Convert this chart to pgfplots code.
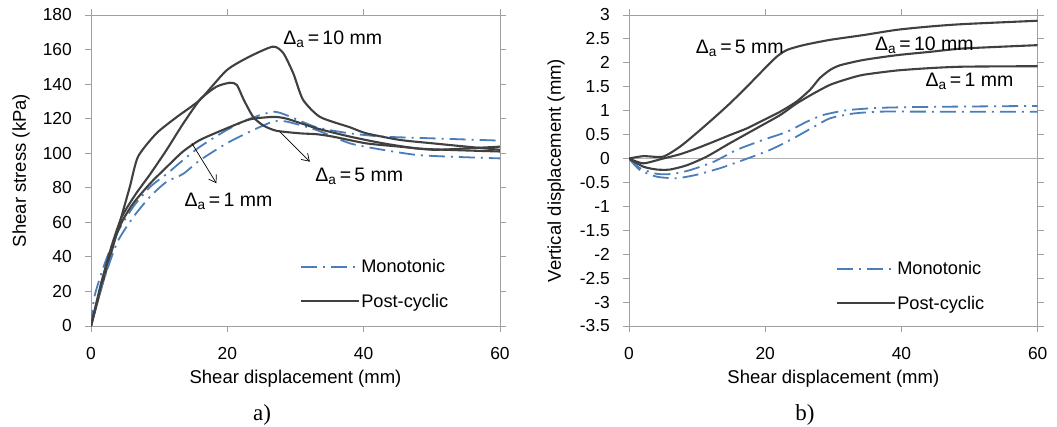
\documentclass[border=0pt]{standalone}
\usepackage{fontspec}
\setmainfont{Liberation Sans}
\newfontfamily\seriffont{Liberation Serif}
\usepackage{pgfplots}
\pgfplotsset{compat=1.18}
\usetikzlibrary{arrows.meta}
\definecolor{dark}{HTML}{404040}
\definecolor{mblue}{HTML}{4A7EBB}
\definecolor{axgray}{HTML}{A0A0A0}
\definecolor{zgray}{HTML}{B0B0B0}
\newcommand{\da}[1]{Δ\textsubscript{a}\,=\,#1 mm}
\tikzset{ann/.style={anchor=west, inner sep=0pt, font=\fontsize{19.5}{21}\selectfont}}

\pgfplotsset{
  myax/.style={
    scale only axis, width=409pt, height=311pt,
    xmin=0, xmax=60, xtick={0,20,40,60},
    axis line style={draw=axgray, line width=0.9pt},
    tick align=outside, major tick length=6pt,
    tick style={draw=axgray, line width=0.9pt},
    /pgf/number format/assume math mode=true,
    tick label style={font=\fontsize{17.4}{19}\selectfont},
    yticklabel style={anchor=east, inner sep=0pt, xshift=-13pt},
    xticklabel style={anchor=north, inner sep=0pt, yshift=-15pt},
    label style={font=\fontsize{18.5}{20}\selectfont},
    xlabel style={at={(axis description cs:0.5,0)}, anchor=center, yshift=-53pt},
    legend style={draw=none, fill=none, inner sep=0pt, row sep=18pt,
      font=\fontsize{18.2}{20}\selectfont, legend cell align=left,
      nodes={inner sep=1pt}},
    legend image code/.code={\draw[##1] (0pt,0pt) -- (58pt,0pt);},
    mono/.style={color=mblue, line width=1.8pt, dash pattern=on 16pt off 6pt on 2pt off 6pt, smooth, tension=0.4},
    post/.style={color=dark, line width=2.1pt, smooth, tension=0.4},
  }
}

\begin{document}
\begin{tikzpicture}
\useasboundingbox (0pt,0pt) rectangle (1057pt,426pt);

\begin{axis}[myax,
  at={(91pt,100pt)}, anchor=south west,
  ymin=0, ymax=180, ytick={0,20,...,180},
  xlabel={Shear displacement (mm)},
  ylabel={Shear stress (kPa)},
  ylabel style={at={([xshift=-70pt]axis description cs:0,0.5)}, anchor=center},
  legend style={at={(axis description cs:0.511,0.135)}, anchor=west},
]
% Monotonic (upper)
\addplot[mono] coordinates {(0,0) (0.5,17) (2,36) (3.8,53.6) (6.2,69) (8.7,80.6) (11.1,88) (13.5,96) (16,103.8) (19.9,113.4) (23.3,120) (26.7,124) (28.7,122) (33.1,115) (38,111.5) (42.9,109.6) (50.2,108.6) (60,107.3)};
\addlegendentry{Monotonic}
% Post-cyclic 10 mm
\addplot[post] coordinates {(0,0) (1.3,19) (2.8,40) (4.3,61) (5.7,80.6) (6.9,98) (9.6,111.5) (12.6,121) (16,131) (19.9,148) (23.3,156) (26.7,161.7) (28.2,158) (29.7,146) (31.1,131) (33.6,121) (38,115) (40.4,111.5) (45.3,107.7) (50.2,105.7) (55.1,103.8) (60,102)};
\addlegendentry{Post-cyclic}
% Monotonic (lower)
\addplot[mono, forget plot] coordinates {(0,0) (1.5,22) (3.8,48) (6.2,63) (8.7,75) (11.1,83.5) (13.5,88) (16,96) (19.9,105.7) (23.3,112.5) (26.7,118.3) (28.7,118.3) (33.1,113.4) (38,105.7) (42.9,101.9) (47.8,99) (52.7,98) (60,97)};
% Post-cyclic 5 mm
\addplot[post, forget plot] coordinates {(0,0) (1.5,24) (3,46) (4.5,63) (6.5,76) (8.7,88) (11.1,102) (13.5,117) (16,131) (18.4,138.5) (20.4,140.8) (21.4,139.5) (22.4,131) (23.8,121) (25.3,116) (27.2,113) (30.7,111.5) (33.1,111) (35.5,109.6) (40.4,105.7) (45.3,103.8) (50.2,102) (55.1,102.8) (60,103.8)};
% Post-cyclic 1 mm
\addplot[post, forget plot] coordinates {(0,0) (1.5,25) (3,45) (4.5,60) (6.2,71) (8.7,82.6) (11.1,92) (13.5,101) (16,107.7) (19.9,114.4) (23.3,119.6) (26.7,121) (28.7,120) (33.1,114.4) (38,109.6) (42.9,105.7) (47.8,102.8) (52.7,101.9) (60,101)};

\draw[black, line width=0.7pt, -{Straight Barb[length=7pt,width=9pt]}] (axis cs:14.8,105.7) -- (axis cs:18.4,82.6);
\draw[black, line width=0.7pt, -{Straight Barb[length=7pt,width=9pt]}] (axis cs:27.7,112.5) -- (axis cs:32.1,95.1);
\node[ann] at (axis cs:28.2,166) {\da{10}};
\node[ann] at (axis cs:32.9,86.4) {\da{5}};
\node[ann] at (axis cs:13.7,72.3) {\da{1}};
\end{axis}

\begin{axis}[myax,
  at={(629pt,100pt)}, anchor=south west, width=408.7pt,
  ymin=-3.5, ymax=3, ytick={-3.5,-3,...,3},
  yticklabels={-3.5,-3,-2.5,-2,-1.5,-1,-0.5,0,0.5,1,1.5,2,2.5,3},
  xlabel={Shear displacement (mm)},
  ylabel={Vertical displacement (mm)},
  ylabel style={at={([xshift=-73pt]axis description cs:0,0.5)}, anchor=center},
  legend style={at={(axis description cs:0.5065,0.1286)}, anchor=west},
]
\addplot[zgray, line width=1pt, forget plot] coordinates {(0,0) (60,0)};
% Monotonic upper
\addplot[mono] coordinates {(0,0) (1.6,-0.2) (4.1,-0.32) (6.5,-0.32) (9,-0.24) (12.4,-0.07) (15.8,0.18) (19.7,0.39) (23.2,0.56) (26.1,0.77) (28.5,0.91) (32,1.01) (36.9,1.06) (44.2,1.08) (60,1.1)};
\addlegendentry{Monotonic}
% Post-cyclic 5 mm
\addplot[post] coordinates {(0,0) (2.1,0.05) (5,0.04) (7.5,0.25) (9.9,0.53) (12.4,0.84) (14.8,1.15) (17.3,1.5) (19.7,1.85) (21.7,2.13) (23.2,2.27) (25.6,2.37) (29.5,2.48) (34.4,2.58) (39.3,2.69) (44.2,2.76) (49.1,2.81) (60,2.88)};
\addlegendentry{Post-cyclic}
% Monotonic lower
\addplot[mono, forget plot] coordinates {(0,0) (1.6,-0.24) (4.1,-0.38) (7,-0.41) (9.9,-0.34) (13.4,-0.2) (16.8,-0.03) (20.7,0.18) (24.1,0.42) (27.1,0.66) (29.5,0.84) (32.9,0.94) (36.9,0.98) (44.2,0.98) (60,0.98)};
% Post-cyclic 10 mm
\addplot[post, forget plot] coordinates {(0,0) (2.1,-0.1) (5,0) (7.5,0.09) (9.9,0.21) (12.4,0.35) (14.8,0.49) (17.3,0.63) (19.7,0.8) (22.2,0.98) (24.6,1.19) (26.6,1.44) (28,1.68) (29.5,1.85) (31,1.95) (34.4,2.06) (39.3,2.16) (44.2,2.23) (49.1,2.3) (60,2.37)};
% Post-cyclic 1 mm
\addplot[post, forget plot] coordinates {(0,0) (2.1,-0.17) (4.1,-0.23) (6,-0.23) (8.5,-0.14) (11.4,0.04) (14.8,0.32) (18.7,0.63) (22.2,0.91) (24.6,1.15) (27.1,1.36) (29.5,1.54) (32,1.66) (34.4,1.75) (39.3,1.84) (44.2,1.89) (49.1,1.92) (60,1.93)};

\node[ann] at (axis cs:9.8,2.3) {\da{5}};
\node[ann] at (axis cs:36.1,2.37) {\da{10}};
\node[ann] at (axis cs:43.5,1.62) {\da{1}};
\end{axis}

\node[anchor=base, inner sep=0pt, font=\seriffont\fontsize{23}{25}\selectfont] at (262pt,5.3pt) {a)};
\node[anchor=base, inner sep=0pt, font=\seriffont\fontsize{23}{25}\selectfont] at (805pt,5.3pt) {b)};
\end{tikzpicture}
\end{document}
